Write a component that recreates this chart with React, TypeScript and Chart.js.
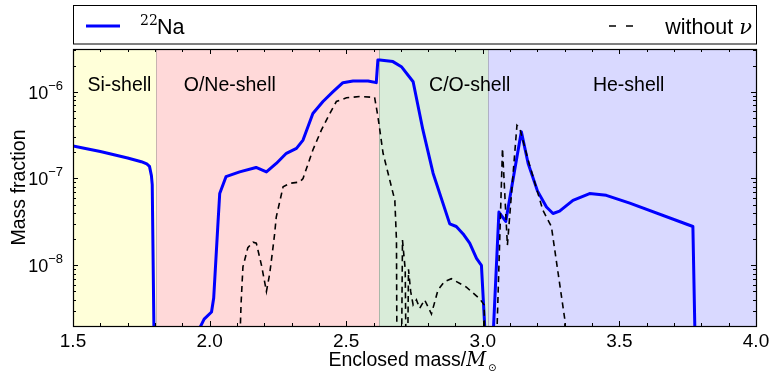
import React, { useEffect, useRef } from "react";
import { Chart, registerables } from "chart.js";

Chart.register(...registerables);

// ---- data ----
const naMass = [
  1.5, 1.55, 1.6, 1.65, 1.7, 1.75, 1.77, 1.78, 1.787, 1.79, 1.801,
  1.95, 1.964, 1.98, 2.007, 2.015, 2.031, 2.037, 2.06, 2.11, 2.17, 2.208, 2.244, 2.281, 2.318, 2.342,
  2.378, 2.415, 2.452, 2.488, 2.525, 2.58, 2.61, 2.616, 2.623, 2.671, 2.702, 2.745, 2.781, 2.818,
  2.879, 2.903, 2.928, 2.952, 2.977, 2.995, 3.007, 3.012,
  3.03, 3.035, 3.059, 3.084, 3.141, 3.166, 3.2, 3.233, 3.257, 3.281, 3.33, 3.391, 3.452, 3.538,
  3.769, 3.79,
];
const naFrac = [
  2.37e-7, 2.2e-7, 2.05e-7, 1.88e-7, 1.72e-7, 1.56e-7, 1.47e-7, 1.38e-7, 1.08e-7, 8.5e-8, 1e-10,
  1e-11, 1.9e-9, 2.4e-9, 2.9e-9, 4.2e-9, 3.2e-8, 6.7e-8, 1.05e-7, 1.19e-7, 1.34e-7, 1.19e-7, 1.49e-7, 1.95e-7, 2.22e-7, 2.77e-7,
  5.6e-7, 7.7e-7, 1.0e-6, 1.27e-6, 1.33e-6, 1.33e-6, 1.27e-6, 2.32e-6, 2.32e-6, 2.22e-6, 1.94e-6, 1.3e-6, 3.6e-7, 1.15e-7,
  3.0e-8, 2.8e-8, 2.3e-8, 1.8e-8, 1.2e-8, 1.0e-8, 2.0e-9, 1e-11,
  1e-11, 1.0e-9, 4.1e-8, 3.2e-8, 3.46e-7, 1.49e-7, 7.2e-8, 4.7e-8, 3.95e-8, 4.2e-8, 5.6e-8, 6.7e-8, 6.4e-8, 5.2e-8,
  2.8e-8, 1e-11,
];

const noNuMass = [
  2.1, 2.115, 2.122, 2.14, 2.159, 2.171, 2.19, 2.208, 2.22, 2.232, 2.238, 2.244, 2.269, 2.293, 2.33, 2.342,
  2.378, 2.409, 2.44, 2.464, 2.501, 2.55, 2.604, 2.616, 2.635, 2.678, 2.684, 2.687,
  2.7, 2.706, 2.716, 2.722, 2.728, 2.736, 2.745, 2.757, 2.769, 2.787, 2.812, 2.836, 2.86, 2.885, 2.94,
  2.989, 3.005, 3.011,
  3.04, 3.072, 3.09, 3.125, 3.135, 3.166, 3.22, 3.251, 3.3, 3.31,
];
const noNuFrac = [
  1e-10, 3.5e-9, 9.6e-9, 1.6e-8, 1.85e-8, 1.8e-8, 1.0e-8, 5.0e-9, 8.0e-9, 1.6e-8, 2.3e-8, 3.6e-8, 8.0e-8, 8.8e-8, 9.1e-8, 1.0e-7,
  2.13e-7, 3.6e-7, 5.6e-7, 7.7e-7, 8.5e-7, 8.8e-7, 8.6e-7, 5.2e-7, 1.95e-7, 5.6e-8, 1.95e-8, 1e-10,
  1e-10, 1.95e-8, 9e-9, 1e-10, 9e-9, 5e-9, 3.5e-9, 4.0e-9, 3.2e-9, 4.0e-9, 2.75e-9, 5.2e-9, 6.5e-9, 7.0e-9, 5.6e-9,
  4.1e-9, 3.5e-9, 1e-10,
  1e-10, 2.22e-7, 1.7e-8, 4.1e-7, 3.8e-7, 1.63e-7, 4.3e-8, 2.8e-8, 2.4e-9, 1e-10,
];

const shellNames = ["Si-shell", "O/Ne-shell", "C/O-shell", "He-shell"];
const shellEdges = [1.5, 1.805, 2.62, 3.02, 4.0];
const shellLabelMass = [1.67, 2.074, 2.952, 3.534];
const shellColors = ["rgb(255,255,217)", "rgb(255,217,217)", "rgb(217,236,217)", "rgb(217,217,255)"];

const xTicks = [1.5, 2.0, 2.5, 3.0, 3.5, 4.0];
const yTickExponents = [-8, -7, -6];

const X_MIN = 1.5;
const X_MAX = 4.0;
const Y_MIN = 2.0e-9;
const Y_MAX = 3.1e-6;

const SANS = "'Liberation Sans', Arial, Helvetica, sans-serif";
const SERIF = "'DejaVu Serif', 'Liberation Serif', serif";

const backgroundPlugin = {
  id: "shells",
  beforeDatasetsDraw(chart: any) {
    const { ctx, chartArea } = chart;
    const xs = chart.scales.x;
    ctx.save();
    for (let i = 0; i < shellNames.length; i++) {
      const x0 = xs.getPixelForValue(shellEdges[i]);
      const x1 = xs.getPixelForValue(shellEdges[i + 1]);
      ctx.fillStyle = shellColors[i];
      ctx.fillRect(x0, chartArea.top, x1 - x0, chartArea.bottom - chartArea.top);
    }
    ctx.strokeStyle = "rgba(0,0,0,0.22)";
    ctx.lineWidth = 1;
    for (let i = 1; i < shellEdges.length - 1; i++) {
      const x = Math.round(xs.getPixelForValue(shellEdges[i])) + 0.5;
      ctx.beginPath();
      ctx.moveTo(x, chartArea.top);
      ctx.lineTo(x, chartArea.bottom);
      ctx.stroke();
    }
    ctx.fillStyle = "#000";
    ctx.font = `19.5px ${SANS}`;
    ctx.textAlign = "center";
    ctx.textBaseline = "alphabetic";
    for (let i = 0; i < shellNames.length; i++) {
      ctx.fillText(shellNames[i], xs.getPixelForValue(shellLabelMass[i]), chartArea.top + 42);
    }
    ctx.restore();
  },
};

const framePlugin = {
  id: "frame",
  afterDraw(chart: any) {
    const { ctx, chartArea } = chart;
    const xs = chart.scales.x;
    const ys = chart.scales.y;
    const { left, right, top, bottom } = chartArea;
    ctx.save();
    ctx.strokeStyle = "#000";
    ctx.lineWidth = 1;
    const tick = (x1: number, y1: number, x2: number, y2: number) => {
      ctx.beginPath();
      ctx.moveTo(x1, y1);
      ctx.lineTo(x2, y2);
      ctx.stroke();
    };
    const majorLen = 5;
    const minorLen = 3;
    for (let k = 15; k <= 40; k++) {
      const v = k / 10;
      const isMajor = xTicks.some((t) => Math.abs(t - v) < 1e-6);
      const len = isMajor ? majorLen : minorLen;
      const x = Math.round(xs.getPixelForValue(v)) + 0.5;
      tick(x, bottom, x, bottom - len);
      tick(x, top, x, top + len);
    }
    for (let d = -9; d <= -6; d++) {
      for (let m = 1; m <= 9; m++) {
        const v = m * Math.pow(10, d);
        if (v < Y_MIN || v > Y_MAX) continue;
        const len = m === 1 ? majorLen : minorLen;
        const y = Math.round(ys.getPixelForValue(v)) + 0.5;
        tick(left, y, left + len, y);
        tick(right, y, right - len, y);
      }
    }
    ctx.lineWidth = 1.2;
    ctx.strokeRect(Math.round(left) + 0.5, Math.round(top) + 0.5, Math.round(right - left), Math.round(bottom - top));

    ctx.fillStyle = "#000";
    ctx.font = `19px ${SANS}`;
    ctx.textAlign = "center";
    ctx.textBaseline = "alphabetic";
    for (const t of xTicks) {
      ctx.fillText(t.toFixed(1), xs.getPixelForValue(t), bottom + 21);
    }
    for (const e of yTickExponents) {
      const y = ys.getPixelForValue(Math.pow(10, e));
      const expText = "\u2212" + String(-e);
      ctx.font = `13px ${SANS}`;
      const ew = ctx.measureText(expText).width;
      ctx.font = `18px ${SANS}`;
      const bw = ctx.measureText("10").width;
      const xEnd = left - 10;
      ctx.textAlign = "left";
      ctx.fillText("10", xEnd - ew - bw, y + 7);
      ctx.font = `13px ${SANS}`;
      ctx.fillText(expText, xEnd - ew, y - 2);
    }
    ctx.save();
    ctx.translate(25, (top + bottom) / 2);
    ctx.rotate(-Math.PI / 2);
    ctx.font = `19.5px ${SANS}`;
    ctx.textAlign = "center";
    ctx.fillText("Mass fraction", 0, 0);
    ctx.restore();
    {
      const part1 = "Enclosed mass/";
      ctx.font = `19.5px ${SANS}`;
      const w1 = ctx.measureText(part1).width;
      ctx.font = `italic 19.5px ${SERIF}`;
      const w2 = ctx.measureText("M").width;
      ctx.font = `10px 'DejaVu Sans', sans-serif`;
      const w3 = ctx.measureText("\u2299").width;
      const total = w1 + w2 + w3 + 2;
      const cx = (left + right) / 2 - 2;
      let x = cx - total / 2;
      const base = bottom + 40;
      ctx.textAlign = "left";
      ctx.font = `19.5px ${SANS}`;
      ctx.fillText(part1, x, base);
      x += w1;
      ctx.font = `italic 19.5px ${SERIF}`;
      ctx.fillText("M", x, base);
      x += w2 + 2;
      ctx.font = `10px 'DejaVu Sans', sans-serif`;
      ctx.fillText("\u2299", x, base + 5);
    }
    {
      const lTop = 5;
      const lBottom = 43.5;
      ctx.lineWidth = 1;
      ctx.strokeStyle = "#000";
      ctx.strokeRect(Math.round(left) + 0.5, lTop + 0.5, Math.round(right - left), lBottom - lTop);
      const ly = 26;
      const blue = chart.data.datasets[1];
      const dash = chart.data.datasets[0];
      ctx.strokeStyle = blue.borderColor;
      ctx.lineWidth = blue.borderWidth;
      ctx.beginPath();
      ctx.moveTo(left + 13, ly);
      ctx.lineTo(left + 47, ly);
      ctx.stroke();
      ctx.fillStyle = "#000";
      ctx.textAlign = "left";
      ctx.font = `14px ${SERIF}`;
      ctx.fillText("22", left + 67, ly - 1);
      ctx.font = `21.5px ${SANS}`;
      ctx.fillText("Na", left + 84, ly + 8);
      ctx.strokeStyle = dash.borderColor;
      ctx.lineWidth = dash.borderWidth;
      ctx.setLineDash([7, 10]);
      ctx.beginPath();
      ctx.moveTo(right - 147, ly);
      ctx.lineTo(right - 122, ly);
      ctx.stroke();
      ctx.setLineDash([]);
      ctx.font = `italic 21px ${SERIF}`;
      const nw = ctx.measureText("\u03bd").width;
      ctx.textAlign = "right";
      ctx.fillText("\u03bd", right - 4, ly + 8);
      ctx.font = `21.5px ${SANS}`;
      ctx.fillText("without ", right - 4 - nw, ly + 8);
    }
    ctx.restore();
  },
};

export default function App() {
  const canvasRef = useRef<HTMLCanvasElement | null>(null);

  useEffect(() => {
    const canvas = canvasRef.current;
    if (!canvas) return;
    const chart = new Chart(canvas, {
      type: "line",
      data: {
        datasets: [
          {
            label: "without \u03bd",
            data: noNuMass.map((m, i) => ({ x: m, y: noNuFrac[i] })),
            borderColor: "#000000",
            borderWidth: 1.6,
            borderDash: [6, 4.5],
            pointRadius: 0,
            tension: 0,
            fill: false,
            order: 1,
            clip: 0,
          } as any,
          {
            label: "22Na",
            data: naMass.map((m, i) => ({ x: m, y: naFrac[i] })),
            borderColor: "#0000ff",
            borderWidth: 3,
            pointRadius: 0,
            tension: 0,
            fill: false,
            order: 2,
            clip: 0,
            borderJoinStyle: "round",
          } as any,
        ],
      },
      options: {
        animation: false,
        responsive: false,
        maintainAspectRatio: false,
        devicePixelRatio: 1,
        layout: { padding: { left: 73, right: 17, top: 49, bottom: 46 } },
        scales: {
          x: { type: "linear", min: X_MIN, max: X_MAX, display: false },
          y: { type: "logarithmic", min: Y_MIN, max: Y_MAX, display: false },
        },
        plugins: {
          legend: { display: false },
          tooltip: { enabled: false },
        },
      },
      plugins: [backgroundPlugin, framePlugin],
    });
    return () => chart.destroy();
  }, []);

  return (
    <div style={{ position: "fixed", left: 0, top: 0, width: 773, height: 372, background: "#fff" }}>
      <canvas ref={canvasRef} width={773} height={372} style={{ width: 773, height: 372, display: "block" }} />
    </div>
  );
}
